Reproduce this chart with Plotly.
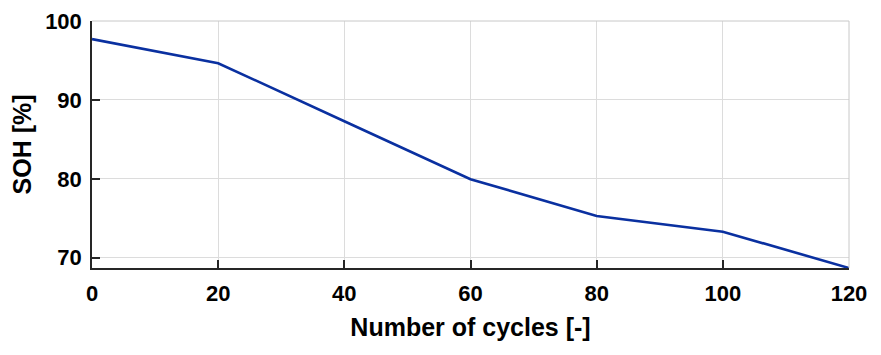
import plotly.graph_objects as go

cycles = [0, 20, 40, 60, 80, 100, 120]
soh = [97.7, 94.65, 87.3, 79.95, 75.3, 73.3, 68.7]
x_ticks = [0, 20, 40, 60, 80, 100, 120]
y_ticks = [70, 80, 90, 100]

fig = go.Figure()
fig.add_trace(go.Scatter(x=cycles, y=soh, mode="lines",
                         line=dict(color="#0A30A0", width=2.6), showlegend=False))

font = "Liberation Sans, Arial, sans-serif"
grid = "#DCDCDC"
axis_col = "#262626"

# page body has an 8px margin, so the figure is sized/offset to compensate
fig.update_layout(
    width=873, height=347,
    margin=dict(l=84, r=32, t=13, b=87),
    paper_bgcolor="white", plot_bgcolor="white",
    font=dict(family=font, color="black"),
    xaxis=dict(range=[0, 120], tickvals=x_ticks, showgrid=True, gridcolor=grid, gridwidth=1,
               automargin=False,
               zeroline=False, showline=True, linecolor=axis_col, linewidth=1.5,
               ticks="inside", ticklen=8, tickcolor=axis_col, tickwidth=1.5,
               tickfont=dict(size=22, family=font, weight="bold"),
               ticklabelstandoff=5,
               title=dict(text="<b>Number of cycles [-]</b>", font=dict(size=25, family=font),
                          standoff=13)),
    yaxis=dict(range=[68.7, 100], tickvals=y_ticks, showgrid=True, gridcolor=grid, gridwidth=1,
               automargin=False,
               zeroline=False, showline=True, linecolor=axis_col, linewidth=1.5,
               ticks="inside", ticklen=8, tickcolor=axis_col, tickwidth=1.5,
               tickfont=dict(size=22, family=font, weight="bold"),
               ticklabelstandoff=4,
               title=dict(text="<b>SOH [%]</b>", font=dict(size=25, family=font),
                          standoff=12)),
)
fig.add_shape(type="line", xref="paper", yref="paper", x0=0, x1=1, y0=1, y1=1,
              line=dict(color="#C8C8C8", width=1))
fig.add_shape(type="line", xref="paper", yref="paper", x0=1, x1=1, y0=0, y1=1,
              line=dict(color="#C8C8C8", width=1))

fig.write_html("out.html")
